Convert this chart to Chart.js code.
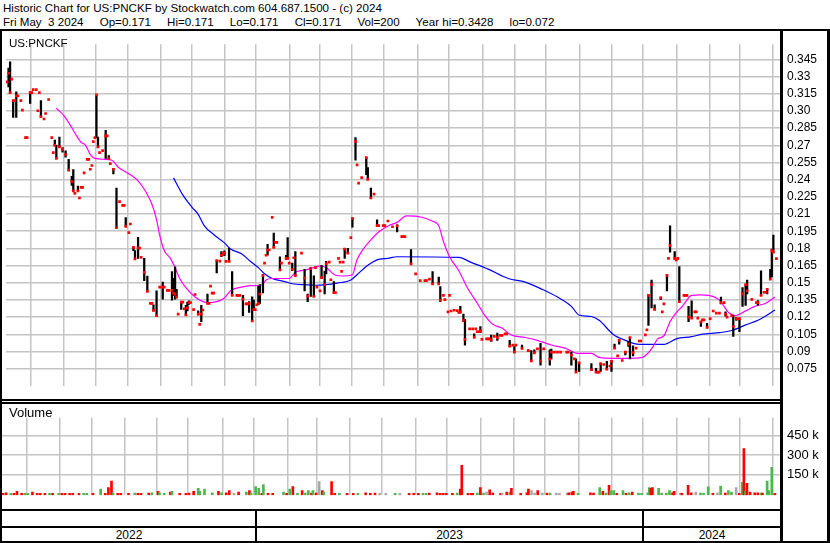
<!DOCTYPE html>
<html><head><meta charset="utf-8">
<script src="https://cdn.jsdelivr.net/npm/chart.js@4.4.1/dist/chart.umd.min.js"></script>
<style>
body{margin:0;background:#fff}
#root{position:relative;width:830px;height:543px;background:#fff;overflow:hidden;font-family:"Liberation Sans",Arial,sans-serif;font-size:12px;color:#000}
.t{position:absolute;white-space:pre;line-height:14px}
.h{font-size:11.6px}
.k{position:absolute;background:#000;z-index:5}
canvas{position:absolute}
</style></head><body>
<div id="root">
  <div class="t h" style="left:3px;top:1px">Historic Chart for US:PNCKF by Stockwatch.com 604.687.1500 - (c) 2024</div>
  <div class="t h" style="left:3px;top:15px">Fri May  3 2024     Op=0.171     Hi=0.171     Lo=0.171     Cl=0.171     Vol=200     Year hi=0.3428     lo=0.072</div>
  <canvas id="price" width="826" height="368" style="left:2px;top:31px"></canvas>
  <canvas id="vol" width="826" height="105" style="left:2px;top:404px"></canvas>
  <div class="t h" style="left:9px;top:36px;z-index:6">US:PNCKF</div>
  <div class="t" style="left:9px;top:406px;z-index:6;font-size:13px">Volume</div>
  <div class="k" style="left:0;top:29px;width:830px;height:2px"></div>
  <div class="k" style="left:0;top:29px;width:2px;height:514px"></div>
  <div class="k" style="left:780px;top:29px;width:3px;height:514px"></div>
  <div class="k" style="left:827px;top:29px;width:3px;height:514px"></div>
  <div class="k" style="left:0;top:399px;width:783px;height:2px"></div>
  <div class="k" style="left:0;top:402px;width:783px;height:2px"></div>
  <div class="k" style="left:0;top:509px;width:783px;height:2px"></div>
  <div class="k" style="left:0;top:526px;width:783px;height:2px"></div>
  <div class="k" style="left:0;top:541px;width:830px;height:2px"></div>
</div>
<script>
// ---- price data (trading-day index, high, low, close); null high/low = close only ----
const days = [
  0,1,2,3,4,5,6,7,9,10,
  12,13,15,16,17,19,20,21,22,24,
  25,27,29,30,31,32,34,36,38,40,
  42,43,44,46,47,48,49,50,52,53,
  54,55,56,57,58,59,60,62,64,65,
  66,67,69,71,73,75,76,77,79,80,
  82,83,85,86,87,89,91,93,94,95,
  97,99,101,102,104,105,107,108,109,110,
  111,113,114,115,116,117,118,119,121,122,
  124,125,126,127,130,131,132,133,134,136,
  138,139,140,141,142,144,146,149,150,151,
  153,155,156,157,159,160,161,162,163,164,
  166,167,168,169,170,172,173,174,175,177,
  178,181,182,183,185,186,187,191,193,195,
  197,199,200,201,203,204,206,207,209,210,
  212,213,215,216,217,218,219,221,223,224,
  226,227,228,230,233,234,236,238,240,241,
  244,245,247,250,253,256,257,258,262,265,
  268,271,272,274,276,280,281,283,284,286,
  287,288,290,292,293,294,296,297,300,302,
  303,304,305,306,307,308,311,312,313,314,
  316,318,320,321,323,324,326,328,329,330,
  334,338,340,342,344,346,348,352,353,355,
  357,359,363,364,366,368,369,371,379,382,
  383,384,385,387,389,391,392,394,396,397,
  399,401,403,404,406,408,410,411,414,415,
  416,418,420,424,425,426,428,429,430,433,
  434,435,436,439,440,441,442,444,446,447,
  448,450,451,452,454,456,458,460,462,463,
  465,466,467,470,471,473,475,477,479,480,
  483,486,487,489,491,492,493,495,496,497,
  499
];
const highs = [
  null,.3375,.3428,null,.309,null,.3168,null,null,null,
  null,null,.3165,null,null,null,null,null,.309,null,
  null,null,null,null,.2746,.270,.2773,.2681,.2651,.2578,
  .2429,.2489,null,.2343,null,null,null,null,null,null,
  null,null,null,null,.314,.2773,null,null,.283,null,
  .261,null,.2497,.2327,null,null,null,.207,null,null,
  .1808,.178,.1897,null,null,.1713,.1559,null,null,.1308,
  .1429,null,.1505,null,null,null,.1597,.1538,.1638,.1442,
  null,.133,null,null,.1302,.133,.1343,null,null,null,
  .1254,null,.1302,null,.1402,null,null,null,null,.1694,
  null,.1773,null,.1778,null,.180,.1597,null,null,null,
  .1389,null,null,.1335,.1377,.1348,null,null,.147,.1483,
  .1565,null,null,.1835,null,null,.1934,null,null,.1727,
  null,.174,.1894,null,.1672,null,.1773,null,.1618,.1402,
  .1632,.156,null,null,null,.1653,.1602,.1686,null,null,
  .151,null,null,null,null,null,.180,.180,null,.2067,
  .2767,null,null,null,.2592,.2505,.2327,null,.205,null,
  null,null,null,null,.2005,null,null,null,.1789,null,
  null,null,null,null,.1597,.155,.1467,null,null,null,
  null,null,null,null,null,.1294,.1226,.118,null,null,
  .1054,null,null,null,.1118,null,null,null,null,.1043,
  null,.106,null,null,null,null,.0997,null,.0943,null,
  .0956,.0915,.0907,.0915,null,.097,null,.0915,.0921,null,
  null,null,null,null,.0894,null,.0835,.0802,.0794,.0753,
  null,null,.0794,null,.0813,null,.0821,.0964,null,.1005,
  null,.0902,.0989,.1022,.095,null,null,null,null,null,
  .1394,.1524,.1308,.1375,null,null,.1573,null,.1997,.1773,
  null,null,.164,null,null,null,.1295,.1343,null,null,
  null,.1159,null,null,.1146,null,null,null,null,.1375,
  null,.1245,null,null,.1213,.1199,.1191,.1457,.1483,.1524,
  null,null,.1345,.1605,null,null,.1443,.1618,.1794,.1916,
  null
];
const lows = [
  null,.321,.316,null,.2943,null,.2943,null,null,null,
  null,null,.3065,null,null,null,null,null,.295,null,
  null,null,null,null,.270,.2586,.2686,.264,.2597,.2483,
  .2349,.230,null,.2302,null,null,null,null,null,null,
  null,null,null,null,.2767,.2686,null,null,.2586,null,
  .2584,null,.245,.198,null,null,null,.1992,null,null,
  .178,.1708,.1713,null,null,.1518,.1424,null,null,.1254,
  .1213,null,.1356,null,null,null,.1348,.1389,.1356,.1375,
  null,.1266,null,null,.1218,.1254,.131,null,null,null,
  .1218,null,.116,null,.132,null,null,null,null,.1586,
  null,.1727,null,.1737,null,.1686,.1389,null,null,null,
  .1213,null,null,.124,.1166,.1266,null,null,.1308,.132,
  .141,null,null,.174,null,null,.1808,null,null,.1613,
  null,.1705,.1705,null,.1605,null,.1562,null,.1429,.1335,
  .138,.138,null,null,null,.1537,.1402,.1578,null,null,
  .1413,null,null,null,null,null,.1713,.1759,null,.1986,
  .257,null,null,null,.2443,.2402,.2235,null,.1998,null,
  null,null,null,null,.1943,null,null,null,.1664,null,
  null,null,null,null,.149,.149,.1335,null,null,null,
  null,null,null,null,null,.1234,.116,.0955,null,null,
  .1023,null,null,null,.1064,null,null,null,null,.0988,
  null,.0997,null,null,null,null,.0943,null,.0888,null,
  .0921,.0897,.0817,.0888,null,.0781,null,.0781,.0835,null,
  null,null,null,null,.0781,null,.072,.0726,.0732,.072,
  null,null,.0726,null,.074,null,.0726,.0929,null,.0964,
  null,.087,.0943,.0835,.0861,null,null,null,null,null,
  .1127,.1281,.1262,.1353,null,null,.1429,null,.1767,.1705,
  null,null,.1335,null,null,null,.116,.1191,null,null,
  null,.1118,null,null,.1105,null,null,null,null,.1316,
  null,.1208,null,null,.1031,.1172,.1072,.1294,.1302,.1402,
  null,null,.1305,.139,null,null,.1402,.1532,.155,.1767,
  null
];
const closes = [
  .3254,.333,.316,.3278,.309,.309,.3132,.3132,.309,.3008,
  .2767,.2767,.316,.316,.3186,.3186,.3002,.316,.295,.293,
  .2978,.310,.2767,.2637,.270,.2586,.2686,.2665,.262,.2483,
  .2383,.2302,.228,.2302,.224,.2332,.2332,.2459,.2578,.2578,
  .2491,.2524,.2732,.2767,.314,.2686,.2637,.2654,.2783,.2783,
  .2584,.254,.2491,.198,.2208,.2175,.2175,.1992,.1937,.2013,
  .1808,.1708,.1802,.1802,.1721,.1591,.1424,.1319,.1319,.1259,
  .1213,.1462,.1462,.1462,.1434,.1434,.1434,.1408,.140,.1375,
  .1226,.133,.133,.1272,.1218,.128,.1327,.1327,.1266,.1397,
  .1226,.1137,.1226,.1262,.132,.132,.147,.141,.141,.1694,
  .1688,.174,.1759,.1759,.1686,.1686,.1389,.1389,.1389,.1389,
  .1356,.1316,.1316,.132,.1166,.1266,.1266,.1308,.132,.140,
  .1565,.1672,.174,.1786,.1786,.207,.1808,.1852,.1852,.1613,
  .1672,.1713,.1713,.1672,.1618,.1718,.1562,.1759,.154,.1383,
  .1624,.138,.1632,.1462,.1429,.1545,.1484,.1666,.168,.1526,
  .1413,.1413,.1713,.168,.1599,.168,.1794,.1759,.1894,.2061,
  .2734,.253,.237,.2418,.2592,.2402,.224,.2273,.1998,.1998,
  .1998,.1998,.2039,.1989,.1997,.1902,.1902,.1902,.1664,.1578,
  .1518,.1518,.1518,.1532,.149,.149,.1348,.139,.1353,.1245,
  .139,.1253,.126,.1256,.124,.1245,.1172,.1005,.1097,.1097,
  .1023,.1097,.1072,.1072,.108,.1005,.101,.101,.101,.100,
  .1032,.102,.104,.104,.1053,.1053,.0946,.0956,.0897,.0956,
  .0926,.0907,.0817,.0888,.0922,.0817,.0922,.0833,.0894,.0894,
  .0894,.0894,.0894,.0894,.0867,.0835,.072,.080,.074,.072,
  .072,.072,.0794,.0786,.0745,.0773,.0813,.0929,.0861,.0997,
  .0821,.0894,.0964,.1022,.0889,.0929,.0991,.0991,.1045,.1088,
  .139,.1483,.1267,.1367,.1245,.1316,.1565,.1713,.1826,.1713,
  .170,.1713,.1335,.139,.139,.139,.120,.1191,.1245,.1245,
  .1191,.1159,.1175,.1175,.111,.1186,.1253,.1234,.1234,.1327,
  .1327,.1226,.120,.1213,.1118,.1186,.1186,.1402,.1483,.1429,
  .1354,.1327,.1327,.139,.1417,.1417,.1443,.1532,.178,.1767,
  .171
];

// ---- moving averages ----
const maShortDays = [32,37,41,44,48,51,54,57,63,68,72,79,85,90,94,97,99,102,106,109,112,116,122,127,130,136,141,145,152,158,165,168,172,183,187,193,197,203,207,210,213,218,224,227,231,236,241,248,253,259,269,276,280,283,287,293,298,305,310,315,321,327,336,344,353,362,370,379,384,393,403,412,415,419,422,426,430,434,438,444,450,455,462,468,472,479,485,492,498];
const maShortVals = [.3024,.2957,.2876,.2808,.2727,.270,.2619,.2586,.2578,.257,.2511,.2451,.2389,.2294,.2186,.2051,.1916,.1781,.1713,.1632,.1537,.1457,.1375,.1335,.1327,.1335,.1367,.143,.1462,.1475,.1478,.1524,.1537,.1537,.1591,.161,.1624,.1645,.1632,.1597,.1565,.1559,.157,.170,.1794,.1875,.1943,.2002,.2027,.2083,.2072,.2037,.1997,.1862,.1727,.1605,.147,.1321,.1213,.1137,.1104,.1043,.1022,.0997,.0956,.0929,.0883,.0883,.0848,.084,.084,.0848,.0875,.0942,.101,.1037,.1159,.124,.1294,.139,.1394,.139,.1348,.124,.1213,.1254,.1294,.1321,.1375];
const maLongDays = [108,114,120,124,128,134,141,145,152,158,163,167,172,180,186,193,200,207,214,223,227,234,240,247,253,293,301,312,325,336,347,357,366,371,379,384,393,401,410,426,434,444,451,462,470,479,487,498];
const maLongVals = [.2416,.2267,.2159,.2097,.1997,.1921,.1848,.1794,.1753,.1686,.1632,.1578,.1537,.151,.1489,.1483,.1478,.1483,.1497,.1524,.157,.1653,.170,.1713,.1727,.1721,.1678,.1619,.1537,.1505,.1443,.1375,.1294,.1218,.1205,.1172,.1051,.0997,.0962,.0962,.101,.1029,.1051,.1064,.1083,.1132,.1172,.1261];

// ---- volume (thousands of shares); r = down, g = up, n = unchanged ----
const volDays = [
  0,2,5,7,9,12,14,16,19,22, 24,27,30,32,36,38,40,43,45,49,
  52,54,58,63,66,68,70,71,74,76, 81,85,87,89,94,96,100,101,104,108,
  109,114,118,120,123,126,127,130,135,139, 141,144,146,149,152,157,159,160,163,165,
  167,168,171,174,181,183,185,187,190,193, 195,197,199,200,202,204,206,207,212,214,
  217,222,226,229,234,237,240,243,247,253, 256,262,265,268,271,273,275,280,282,284,
  286,290,293,295,296,300,302,303,306,308, 310,312,314,316,321,322,325,327,328,334,
  338,339,341,343,345,348,351,353,357,359, 364,365,367,368,371,379,381,385,387,389,
  391,392,394,396,400,402,404,406,410,412, 416,417,418,419,423,425,428,430,432,433,
  437,438,442,444,447,450,452,455,458,461, 463,466,468,470,473,475,477,478,479,480,
  482,485,487,489,490,493,494,496,498
];
const volVals = [
  2,7,2,2,18,2,3,2,13,3, 2,2,3,2,2,3,3,2,3,2,
  2,2,2,36,3,47,98,7,2,2, 2,4,3,2,4,6,18,7,2,13,
  18,3,2,4,18,41,18,36,7,18, 7,7,24,3,13,13,24,7,55,41,
  2,70,3,2,13,3,36,55,2,24, 4,24,4,24,4,93,24,13,93,2,
  2,3,3,2,7,2,4,2,2,2, 2,2,2,2,2,2,4,7,2,3,
  2,2,4,36,219,2,2,3,4,47, 4,13,30,4,2,4,13,13,41,2,
  7,36,24,4,24,4,4,4,4,2, 2,7,13,18,2,7,4,47,18,4,
  64,24,24,3,24,2,7,13,4,3, 7,47,41,47,41,4,4,24,7,18,
  4,3,64,7,13,4,2,53,3,7, 58,4,24,13,47,2,87,350,18,81,
  13,7,7,4,4,98,24,204,3
];
const volDir = [
  'r','r','g','r','r','r','g','g','r','r', 'r','r','g','r','g','r','r','r','r','r',
  'g','g','r','g','r','r','r','g','r','r', 'r','g','r','r','r','g','r','g','g','r',
  'g','r','r','r','r','g','g','g','g','r', 'g','r','r','n','r','g','r','g','g','g',
  'r','g','r','r','g','r','g','r','g','r', 'g','g','r','g','r','n','r','g','r','r',
  'g','r','r','g','r','r','r','n','n','g', 'n','r','r','r','g','g','r','r','r','r',
  'r','r','g','r','r','r','r','r','g','r', 'g','n','r','r','r','n','r','g','r','r',
  'r','r','n','n','r','n','r','g','n','n', 'n','r','r','r','g','r','r','g','r','g',
  'r','g','g','r','g','r','g','r','g','g', 'g','g','r','r','g','g','g','g','r','r',
  'n','r','r','r','n','g','g','g','r','n', 'g','r','g','g','n','r','g','r','g','r',
  'r','r','r','g','r','g','g','g','r'
];

// ---- axes ----
const monthStarts = [15.5,36.5,57.5,78.5,99.5,119.5,141.5,161.5,183.5,202.5,223.5,244.5,266.5,286.5,308.5,329.5,349.5,371.5,392.5,412.5,434.5,455.5,475.5,496.5];
const yearStarts = [161.5, 412.5];
const yearLabels = ['2022','2023','2024'];
const priceTicks = [0.075,0.09,0.105,0.12,0.135,0.15,0.165,0.18,0.195,0.21,0.225,0.24,0.255,0.27,0.285,0.30,0.315,0.33,0.345];
const priceTickLabels = ['0.075','0.09','0.105','0.12','0.135','0.15','0.165','0.18','0.195','0.21','0.225','0.24','0.255','0.27','0.285','0.30','0.315','0.33','0.345'];
const volTicks = [150,300,450];
const volTickLabels = ['150 k','300 k','450 k'];

// ---- rendering ----
const FONT = '"Liberation Sans", Arial, sans-serif';
const GRID = '#c4c4c4';
const X_MIN = -0.65, X_MAX = 501.95;
const VOL_FLOOR = -12, VOL_TOP = 589;
const VCOL = {r:'#ff0000', g:'#4cb84c', n:'#a8a8a8'};

const priceBars = [], closePts = [];
days.forEach((d, i) => {
  if (highs[i] !== null) priceBars.push({x: d, y: [lows[i], highs[i]]});
  closePts.push({x: d, y: closes[i]});
});
const maShort = maShortDays.map((d, i) => ({x: d, y: maShortVals[i]}));
const maLong = maLongDays.map((d, i) => ({x: d, y: maLongVals[i]}));

function xAxis() {
  return {
    type: 'linear', min: X_MIN, max: X_MAX, offset: false,
    grid: {color: GRID, lineWidth: 1.5, drawTicks: false, offset: false},
    border: {display: false},
    ticks: {display: false},
    afterBuildTicks: s => { s.ticks = monthStarts.map(v => ({value: v})); },
    afterFit: s => { s.height = 0; }
  };
}
function yAxis(min, max, tv, tl, fs) {
  return {
    type: 'linear', position: 'right', min: min, max: max,
    grid: {color: GRID, lineWidth: 1.5, drawTicks: false},
    border: {display: false},
    afterBuildTicks: s => { s.ticks = tv.map(v => ({value: v})); },
    ticks: {padding: 6, color: '#000', autoSkip: false, font: {family: FONT, size: fs},
            callback: (v, i) => tl[i]},
    afterFit: s => { s.width = 47; }
  };
}
const common = {
  responsive: false, animation: false, events: [],
  layout: {padding: 0},
  plugins: {legend: {display: false}, tooltip: {enabled: false}}
};

const priceChart = new Chart(document.getElementById('price'), {
  type: 'bar',
  data: {datasets: [
    {type: 'scatter', data: closePts, pointStyle: 'rect', pointRadius: 1.9, backgroundColor: '#ff0000', borderWidth: 0, order: 0},
    {type: 'bar', data: priceBars, backgroundColor: '#000', barThickness: 1.6, borderWidth: 0, order: 1},
    {type: 'line', data: maShort, borderColor: '#ff00ff', borderWidth: 1.2, pointRadius: 0, tension: 0.35, cubicInterpolationMode: 'monotone', order: 2},
    {type: 'line', data: maLong, borderColor: '#0000ff', borderWidth: 1.2, pointRadius: 0, tension: 0.35, cubicInterpolationMode: 'monotone', order: 3}
  ]},
  options: Object.assign({}, common, {
    scales: {x: xAxis(), y: yAxis(0.06, 0.3583, priceTicks, priceTickLabels, 12)}
  })
});

new Chart(document.getElementById('vol'), {
  type: 'bar',
  data: {datasets: [{
    data: volDays.map((d, i) => ({x: d, y: [VOL_FLOOR, volVals[i]]})),
    backgroundColor: volDir.map(c => VCOL[c]),
    barThickness: 2, borderWidth: 0
  }]},
  options: Object.assign({}, common, {
    scales: {x: xAxis(), y: yAxis(VOL_FLOOR, VOL_TOP, volTicks, volTickLabels, 13)}
  })
});

// year band: separators and labels placed from the x scale
const root = document.getElementById('root');
const xs = priceChart.scales.x;
const pagePx = v => 2 + xs.getPixelForValue(v);
const bounds = [2].concat(yearStarts.map(pagePx)).concat([781]);
yearStarts.forEach(v => {
  const s = document.createElement('div');
  s.className = 'k';
  s.style.cssText = 'left:' + (Math.round(pagePx(v)) - 1) + 'px;top:511px;width:2px;height:30px';
  root.appendChild(s);
});
yearLabels.forEach((t, i) => {
  const l = document.createElement('div');
  l.className = 't';
  l.textContent = t;
  l.style.cssText = 'left:' + bounds[i] + 'px;width:' + (bounds[i + 1] - bounds[i]) + 'px;top:528px;text-align:center';
  root.appendChild(l);
});
</script>
</body></html>
